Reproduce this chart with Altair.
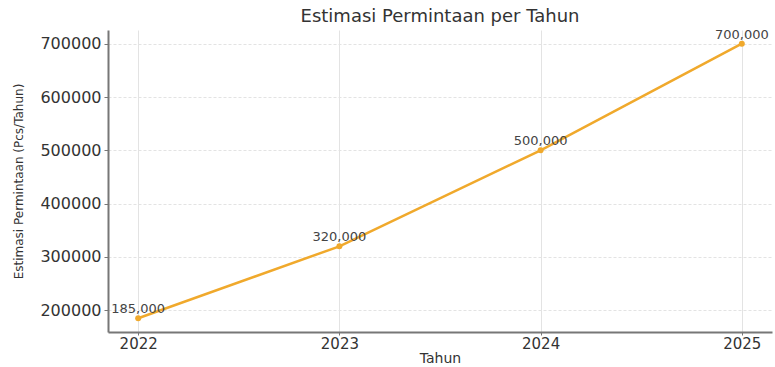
import altair as alt
import pandas as pd

years = [2022, 2023, 2024, 2025]
demand = [185000, 320000, 500000, 700000]
labels = ["185,000", "320,000", "500,000", "700,000"]
y_ticks = [200000, 300000, 400000, 500000, 600000, 700000]

df = pd.DataFrame({"Tahun": years, "Permintaan": demand, "Label": labels})

color = "#f0a92c"
FONT = "DejaVu Sans"

x = alt.X("Tahun:Q",
          scale=alt.Scale(domain=[2021.85, 2025.15], nice=False, zero=False),
          axis=alt.Axis(values=years, format="d", title="Tahun", titleFontSize=14,
                        titleFont=FONT, titleFontWeight="normal", titleColor="#333",
                        titlePadding=0, labelFontSize=15, labelFont=FONT,
                        labelColor="#333", labelPadding=1, tickSize=3,
                        tickColor="#777", domainColor="#777", domainWidth=2,
                        gridColor="#e3e3e3", gridWidth=1))
y = alt.Y("Permintaan:Q",
          scale=alt.Scale(domain=[159250, 725750], nice=False, zero=False),
          axis=alt.Axis(values=y_ticks, format="d",
                        title="Estimasi Permintaan (Pcs/Tahun)", titleFontSize=12,
                        titleFont=FONT, titleFontWeight="normal", titleColor="#333",
                        titlePadding=14, labelFontSize=16, labelFont=FONT,
                        labelColor="#333", labelPadding=3, tickSize=4,
                        tickColor="#777", domainColor="#777", domainWidth=2,
                        gridColor="#e3e3e3", gridWidth=1, gridDash=[3, 2]))

base = alt.Chart(df)
line = base.mark_line(color=color, strokeWidth=2.5).encode(x=x, y=y)
pts = base.mark_circle(color=color, size=36, opacity=1).encode(x=x, y=y)
txt = base.mark_text(dy=-9, fontSize=13, font=FONT, color="#444").encode(
    x=x, y=y, text="Label:N")

chart = (line + pts + txt).properties(
    width=664, height=302,
    title=alt.TitleParams("Estimasi Permintaan per Tahun", fontSize=18, font=FONT,
                          fontWeight="normal", color="#333", offset=3),
    autosize=alt.AutoSizeParams(type="none"),
    padding={"left": 108, "top": 30, "right": 3, "bottom": 35},
).configure_view(stroke=None)

chart.save("out.html", embed_options={"renderer": "svg", "actions": False})
